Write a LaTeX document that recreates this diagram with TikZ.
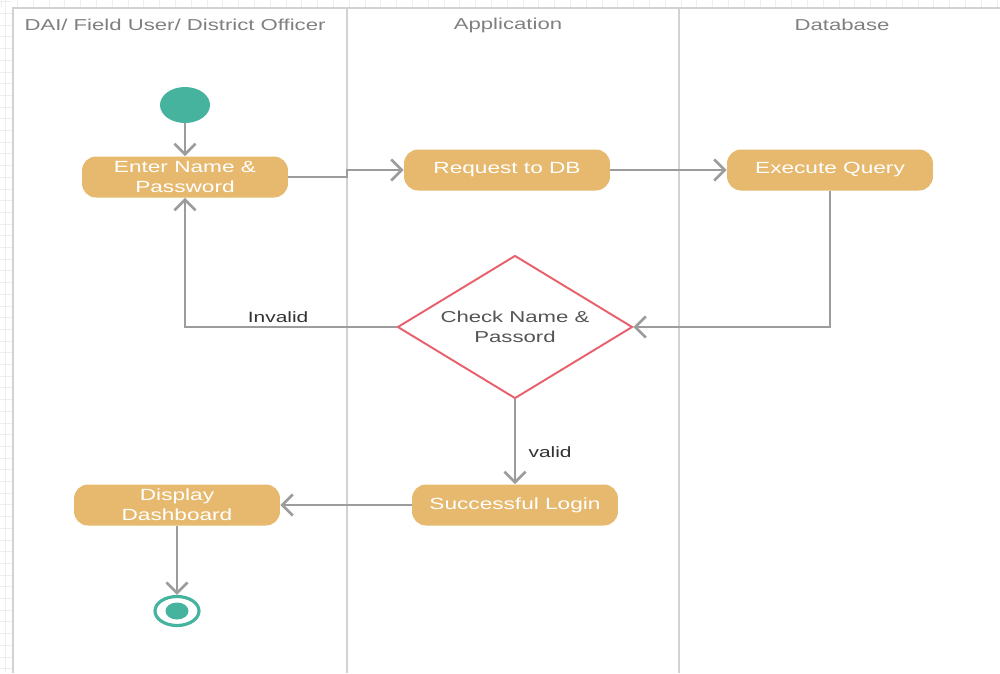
\documentclass[tikz,border=0pt]{standalone}
\usepackage{fontspec}
\setmainfont[FakeStretch=1.4]{Liberation Sans}
\usetikzlibrary{shapes.geometric,arrows.meta}
\definecolor{actfill}{HTML}{E6B96E}
\definecolor{startc}{HTML}{45B39D}
\definecolor{flowc}{HTML}{9C9C9C}
\definecolor{decc}{HTML}{E8606B}
\definecolor{laneline}{HTML}{D2D2D2}
\definecolor{gridc}{HTML}{EEEEEE}
\definecolor{hdrc}{HTML}{808080}
\definecolor{txtc}{HTML}{555555}
\begin{document}
\begin{tikzpicture}[x=0.02cm,y=-0.02cm,
  lane/.style={draw=laneline, line width=0.9pt},
  hdr/.style={text=hdrc, font=\fontsize{9}{11}\selectfont, inner sep=0pt},
  actbox/.style={fill=actfill, rounded corners=8pt, minimum width=4.12cm,
    minimum height=0.82cm, text=white, font=\fontsize{9.2}{11.5}\selectfont,
    align=center, inner sep=0pt},
  decision/.style={diamond, aspect=1.64, draw=decc, line width=1.1pt, fill=white,
    minimum width=4.7cm, minimum height=2.86cm, inner sep=0pt, text=txtc,
    align=center, font=\fontsize{9}{11.5}\selectfont},
  startnode/.style={ellipse, fill=startc, minimum width=1cm, minimum height=0.72cm, inner sep=0pt},
  endring/.style={ellipse, draw=startc, line width=1.8pt, fill=white, minimum width=0.88cm, minimum height=0.58cm, inner sep=0pt},
  enddot/.style={ellipse, fill=startc, minimum width=0.46cm, minimum height=0.34cm, inner sep=0pt},
  flow/.style={draw=flowc, line width=1.5pt, -{Straight Barb[length=6pt,width=12pt,line width=1.5pt]}},
  lbl/.style={text=black!80, font=\fontsize{8.5}{10}\selectfont, inner sep=1pt}
]
\useasboundingbox (0,0) rectangle (1000,673);
\fill[white] (0,0) rectangle (1000,673);
% faint editor grid ticks in the top and left margins
\foreach \i in {0,...,63} \fill[gridc] ({1.1+\i*15.8},0) rectangle ({1.7+\i*15.8},7);
\foreach \j in {0,...,57} \fill[gridc] (0,{1.3+\j*11.7}) rectangle (12,{1.9+\j*11.7});
\fill[gridc] (4.7,0) rectangle (5.3,673);
% swimlanes
\coordinate (l2) at (347,8);
\coordinate (l3) at (679,8);
\draw[lane] (13,673) -- (13,8) -- (1000,8);
\draw[lane] (l2) -- (347,673);
\draw[lane] (l3) -- (679,673);
\node[hdr] (h1) at (175,25) {DAI/ Field User/ District Officer};
\node[hdr] (h2) at (508,25) {Application};
\node[hdr] (h3) at (842,25) {Database};
% activities
\node[startnode] (start) at (185,105) {};
\node[actbox] (enter) at (185,177) {Enter Name \&\\Password};
\node[actbox] (req) at (507,170) {Request to DB};
\node[actbox] (exec) at (830,170) {Execute Query};
\node[decision] (check) at (515,327) {Check Name \&\\Passord};
\node[actbox] (succ) at (515,505) {Successful Login};
\node[actbox] (disp) at (177,505) {Display\\Dashboard};
\node[endring] (stop) at (177,611) {};
\node[enddot] (stopdot) at (177,611) {};
% flows
\draw[flow] (start) -- (enter);
\draw[flow] (enter.east) -- (enter.east -| l2) |- (req.west);
\draw[flow] (req) -- (exec);
\draw[flow] (exec.south) |- (check.east);
\draw[flow] (check.west) -| (enter.south) node[pos=0.28, above, lbl, yshift=1pt] {Invalid};
\draw[flow] (check.south) -- (succ.north) node[pos=0.62, right, lbl, xshift=6pt] {valid};
\draw[flow] (succ) -- (disp);
\draw[flow] (disp) -- (stop);
\end{tikzpicture}
\end{document}
